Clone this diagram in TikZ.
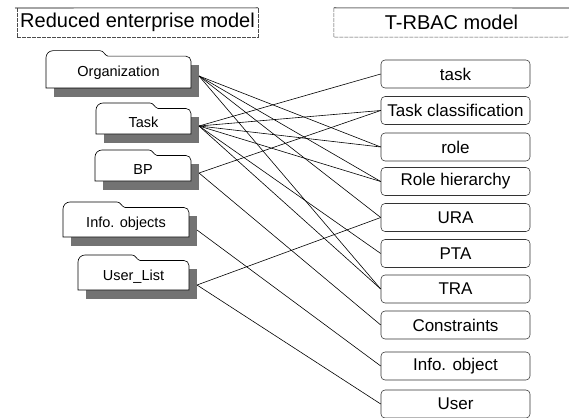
\documentclass[tikz,border=0pt]{standalone}
\usepackage{fontspec}
\setmainfont{Liberation Sans}
\begin{document}
\begin{tikzpicture}[x=1pt,y=-1pt,
  titletext/.style={inner sep=0pt,minimum width=#1,minimum height=29pt,
    font=\fontsize{20}{22}\selectfont},
  titletop/.style={draw=black!55,line width=1.1pt},
  titleside/.style={draw=black!70,line width=0.5pt,dash pattern=on 4pt off 1pt},
  folderline/.style={draw=black,line width=0.6pt,fill=white},
  foldshadow/.style={fill=black!55},
  foldertext/.style={inner sep=0pt,font=\fontsize{14.5}{16}\selectfont},
  rbox/.style={draw=black!80,line width=0.55pt,rounded corners=4pt,fill=white,
    minimum width=149pt,minimum height=28pt,inner sep=0pt,
    font=\fontsize{17}{19}\selectfont},
  link/.style={draw=black,line width=0.6pt}]
\useasboundingbox (0,0) rectangle (569,417);

% folder: name, left x, tab top y, right x, bottom y, label, port y
\newcommand\envfolder[7]{%
  \begin{scope}[shift={(#2,#3)}]
    \pgfmathsetmacro\fw{#4-#2}
    \pgfmathsetmacro\fh{#5-#3}
    \fill[foldshadow] (8,14) rectangle (\fw+8,\fh+9);
    \draw[folderline] (0,\fh) -- (0,7) to[out=90,in=180] (7,0) -- (54,0)
      to[out=0,in=165] (62,5.5) -- (\fw-5,5.5) to[out=0,in=90] (\fw,10.5)
      -- (\fw,\fh) -- cycle;
    \node[foldertext] (#1) at (\fw/2,{(\fh+5.5)/2+1}) {#6};
  \end{scope}
  \coordinate (#1-port) at (#4+8,#7);
}

% column headings
\node[titletext=241pt] (lhead) at (137.5,22.5) {Reduced enterprise model};
\draw[titletop] (15,8) -- (lhead.north east);
\draw[titleside] (lhead.north west) -- (lhead.south west) -- (lhead.south east) -- (lhead.north east);
\node[titletext=235pt] (rhead) at (451.5,22.5) {T-RBAC model};
\draw[titletop] (rhead.north west) -- (569,8);
\draw[titleside] (rhead.north west) -- (rhead.south west) -- (569,37);

% reduced enterprise model
\envfolder{org}{46}{50.7}{191}{88}{Organization}{76}
\envfolder{tsk}{96}{103}{191}{134}{Task}{126}
\envfolder{bp}{95}{150}{191}{181}{BP}{173}
\envfolder{info}{63}{202}{189}{237}{Info. objects}{230}
\envfolder{ulist}{78}{255}{189}{290}{User\_List}{285}

% T-RBAC model
\node[rbox] (task)  at (455.5,74)    {task};
\node[rbox] (tcls)  at (455.5,110.5) {Task classification};
\node[rbox] (role)  at (455.5,147)   {role};
\node[rbox] (rh)    at (455.5,181.5) {Role hierarchy};
\node[rbox] (ura)   at (455.5,217.5) {URA};
\node[rbox] (pta)   at (455.5,253.5) {PTA};
\node[rbox] (tra)   at (455.5,289)   {TRA};
\node[rbox] (cons)  at (455.5,325)   {Constraints};
\node[rbox] (iobj)  at (455.5,366)   {Info. object};
\node[rbox] (user)  at (455.5,404)   {User};

% mappings
\foreach \t in {role,rh,ura,tra} \draw[link] (org-port) -- (\t.west);
\foreach \t in {task,tcls,role,rh,pta,tra} \draw[link] (tsk-port) -- (\t.west);
\foreach \t in {tcls,cons} \draw[link] (bp-port) -- (\t.west);
\draw[link] (info-port) -- (iobj.west);
\foreach \t in {ura,user} \draw[link] (ulist-port) -- (\t.west);
\end{tikzpicture}
\end{document}
